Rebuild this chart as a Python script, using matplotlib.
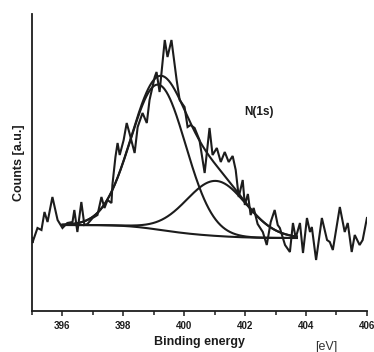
import numpy as np
import matplotlib
matplotlib.use("Agg")
import matplotlib.pyplot as plt
from matplotlib.ticker import MultipleLocator

# Measured spectrum (binding energy [eV], counts [a.u.])
be_data = [395.00, 395.01, 395.18, 395.31, 395.41, 395.51, 395.67, 395.84, 396.00, 396.16,
           396.33, 396.39, 396.49, 396.62, 396.72, 396.82, 396.99, 397.15, 397.28, 397.38,
           397.48, 397.61, 397.64, 397.74, 397.81, 397.88, 398.01, 398.11, 398.20, 398.37,
           398.47, 398.63, 398.77, 398.86, 399.03, 399.09, 399.19, 399.36, 399.45, 399.58,
           399.75, 399.85, 400.01, 400.11, 400.21, 400.34, 400.50, 400.67, 400.83, 400.93,
           401.07, 401.20, 401.33, 401.46, 401.59, 401.69, 401.79, 401.92, 401.99, 402.09,
           402.18, 402.28, 402.41, 402.58, 402.71, 402.84, 402.97, 403.07, 403.14, 403.31,
           403.47, 403.57, 403.66, 403.80, 403.90, 404.03, 404.13, 404.19, 404.33, 404.52,
           404.69, 404.78, 404.88, 405.11, 405.27, 405.37, 405.50, 405.60, 405.76, 405.86,
           406.00]
counts_data = [73, 68, 83, 81, 99, 89, 114, 91, 83, 88,
               89, 101, 79, 109, 86, 87, 93, 96, 114, 103,
               111, 108, 126, 154, 168, 156, 171, 188, 178, 158,
               184, 198, 188, 211, 234, 239, 219, 271, 254, 271,
               231, 211, 204, 184, 186, 183, 171, 138, 183, 156,
               163, 149, 159, 149, 155, 141, 114, 131, 106, 117,
               96, 103, 87, 79, 66, 89, 101, 86, 83, 66,
               59, 88, 73, 88, 58, 93, 79, 84, 51, 93,
               71, 69, 61, 104, 79, 88, 59, 76, 66, 71,
               93]

# Fitted components
peak_centers = [399.15, 401.05]
peak_heights = [145, 55]
peak_sigmas = [0.90, 0.98]
bg_left, bg_right = 86, 73
fit_range = (396.0, 403.7)

x_ticks = [396, 398, 400, 402, 404, 406]

fig = plt.figure(figsize=(3.74, 3.52), dpi=100)
ax = fig.add_axes([0.0856, 0.1165, 0.8955, 0.8437])

ink = "#1c1c1c"
lw = 1.5

ax.plot(be_data, counts_data, color=ink, lw=lw, solid_joinstyle="miter")

xf = np.linspace(fit_range[0], fit_range[1], 400)
comps = [h * np.exp(-(xf - c) ** 2 / (2 * s ** 2))
         for c, h, s in zip(peak_centers, peak_heights, peak_sigmas)]
total = comps[0] + comps[1]
cum = np.cumsum(total[::-1])[::-1]
frac = cum / cum[0]
bg = bg_right + (bg_left - bg_right) * frac

ax.plot(xf, bg, color=ink, lw=lw)
for cmp in comps:
    ax.plot(xf, bg + cmp, color=ink, lw=lw)
ax.plot(xf, bg + total, color=ink, lw=lw)

ax.set_xlim(395, 406)
ax.set_ylim(0, 297)
ax.set_xticks(x_ticks)
ax.xaxis.set_minor_locator(MultipleLocator(1))
ax.set_yticks([])
for s in ["top", "right"]:
    ax.spines[s].set_visible(False)
for s in ["left", "bottom"]:
    ax.spines[s].set_linewidth(1.3)
    ax.spines[s].set_color(ink)

fam = ["Liberation Sans", "DejaVu Sans"]
ax.tick_params(axis="x", which="major", direction="out", length=3.5, width=1.1,
               labelsize=7, pad=4, colors=ink)
ax.tick_params(axis="x", which="minor", direction="out", length=3, width=1.1, colors=ink)
for lab in ax.get_xticklabels():
    lab.set_fontfamily(fam)
    lab.set_fontweight("bold")

ax.set_xlabel("Binding energy", fontsize=9, fontweight="bold", family=fam,
              labelpad=3, color=ink)
ax.set_ylabel("Counts [a.u.]", fontsize=9, fontweight="bold", family=fam,
              labelpad=5, color=ink)
ax.text(0.88, -0.12, "[eV]", transform=ax.transAxes, fontsize=9, family=fam,
        color="#333333", ha="center", va="center")
ax.text(0.678, 0.67, "N(1s)", transform=ax.transAxes, fontsize=8.5, family=fam,
        fontweight="bold", color=ink, ha="center", va="center")

fig.savefig("out.png", dpi=100)
